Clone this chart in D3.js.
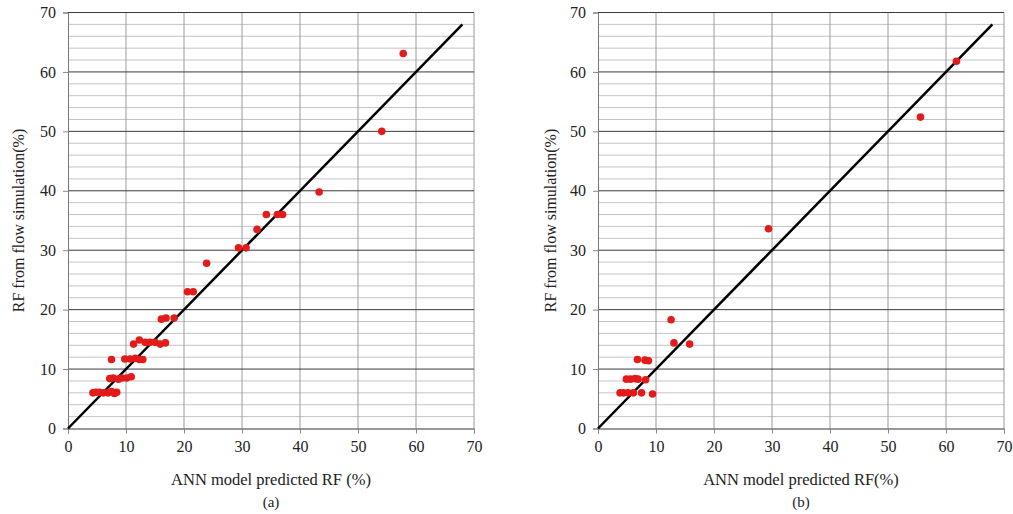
<!DOCTYPE html>
<html><head><meta charset="utf-8">
<script src="https://cdn.jsdelivr.net/npm/d3@7"></script>
<style>body{margin:0;background:#fff}svg{display:block}text{font-family:"Liberation Serif","Times New Roman",serif;fill:#222}</style>
</head><body><svg id="c" width="1013" height="514"></svg>
<script>
// Panel (a): ANN predicted RF vs RF from flow simulation
const predA = [57.8,54.1,43.3,34.2,36.1,37.0,32.6,29.4,30.7,23.9,20.6,21.6,
  16.1,16.9,18.3,
  11.3,12.3,13.3,14.1,15.0,15.9,16.8,
  7.5,9.8,10.7,11.6,12.3,12.9,
  7.2,7.8,8.7,9.3,10.1,10.9,
  4.3,4.8,5.4,6.1,6.9,7.5,8.0,8.4];
const simA = [63.1,50.0,39.8,36.0,36.0,36.0,33.5,30.4,30.4,27.8,23.0,23.0,
  18.4,18.6,18.6,
  14.2,14.9,14.5,14.5,14.5,14.2,14.4,
  11.6,11.7,11.7,11.8,11.6,11.6,
  8.4,8.5,8.3,8.5,8.5,8.7,
  6.0,6.1,6.1,6.0,6.0,6.2,5.9,6.1];
// Panel (b)
const predB = [61.8,55.6,29.4,12.6,13.1,15.8,6.8,8.1,8.7,4.9,5.6,6.4,6.9,8.2,3.8,4.4,5.2,6.1,7.5,9.4];
const simB  = [61.8,52.4,33.6,18.3,14.4,14.2,11.6,11.5,11.4,8.3,8.3,8.4,8.3,8.2,6.0,6.0,6.0,6.0,6.0,5.8];
const axisTicks = [0,10,20,30,40,50,60,70];
const minorY = d3.range(0,71,2);
const lineEnd = [0,68];
const xTitles = ["ANN model predicted RF (%)","ANN model predicted RF(%)"];
const yTitle = "RF from flow simulation(%)";
const panelLabels = ["(a)","(b)"];

const FONT = '"Liberation Serif","Times New Roman",serif';
const svg = d3.select("#c");
const panels = [
  {x0:68, x1:474, pred:predA, sim:simA, yt:24},
  {x0:598, x1:1004, pred:predB, sim:simB, yt:556}
];
panels.forEach((p,i)=>{
  const x = d3.scaleLinear().domain([0,70]).range([p.x0,p.x1]);
  const y = d3.scaleLinear().domain([0,70]).range([428.5,12.5]);
  const g = svg.append("g");
  g.selectAll(".mn").data(minorY.filter(v=>v%10!==0)).join("line")
    .attr("x1",x(0)).attr("x2",x(70)).attr("y1",d=>y(d)).attr("y2",d=>y(d))
    .attr("stroke","#c4c4c4").attr("stroke-width",1);
  g.selectAll(".vg").data(axisTicks.filter(v=>v>0)).join("line")
    .attr("x1",d=>x(d)).attr("x2",d=>x(d)).attr("y1",y(0)).attr("y2",y(70))
    .attr("stroke","#9a9a9a").attr("stroke-width",1);
  g.selectAll(".hg").data(axisTicks.filter(v=>v>0)).join("line")
    .attr("x1",x(0)).attr("x2",x(70)).attr("y1",d=>y(d)).attr("y2",d=>y(d))
    .attr("stroke","#3a3a3a").attr("stroke-width",1);
  const xa = g.append("g").attr("transform",`translate(0,${y(0)})`)
    .call(d3.axisBottom(x).tickValues(axisTicks).tickSize(5).tickPadding(7));
  const ya = g.append("g").attr("transform",`translate(${x(0)},0)`)
    .call(d3.axisLeft(y).tickValues(axisTicks).tickSize(5).tickPadding(7));
  [xa,ya].forEach(a=>{
    a.attr("font-family",FONT);
    a.select(".domain").attr("stroke","#777");
    a.selectAll(".tick line").attr("stroke","#888");
    a.selectAll("text").style("font-family",FONT).style("font-size","16px").attr("fill","#222");
  });
  xa.select(".domain").attr("stroke","#333");
  g.append("line").attr("x1",x(lineEnd[0])).attr("y1",y(lineEnd[0]))
    .attr("x2",x(lineEnd[1])).attr("y2",y(lineEnd[1]))
    .attr("stroke","#000").attr("stroke-width",2.5);
  g.selectAll(".pt").data(p.pred.map((v,k)=>[v,p.sim[k]])).join("circle")
    .attr("cx",d=>x(d[0])).attr("cy",d=>y(d[1])).attr("r",3.8).attr("fill","#e41b1b");
  g.append("text").attr("x",(x(0)+x(70))/2).attr("y",485).attr("text-anchor","middle")
    .style("font-family",FONT).style("font-size","16.5px").text(xTitles[i]);
  g.append("text").attr("x",(x(0)+x(70))/2).attr("y",507).attr("text-anchor","middle")
    .style("font-family",FONT).style("font-size","15px").text(panelLabels[i]);
  g.append("text").attr("transform",`translate(${p.yt},${y(35)}) rotate(-90)`)
    .attr("text-anchor","middle").style("font-family",FONT).style("font-size","16px").text(yTitle);
});
</script></body></html>
